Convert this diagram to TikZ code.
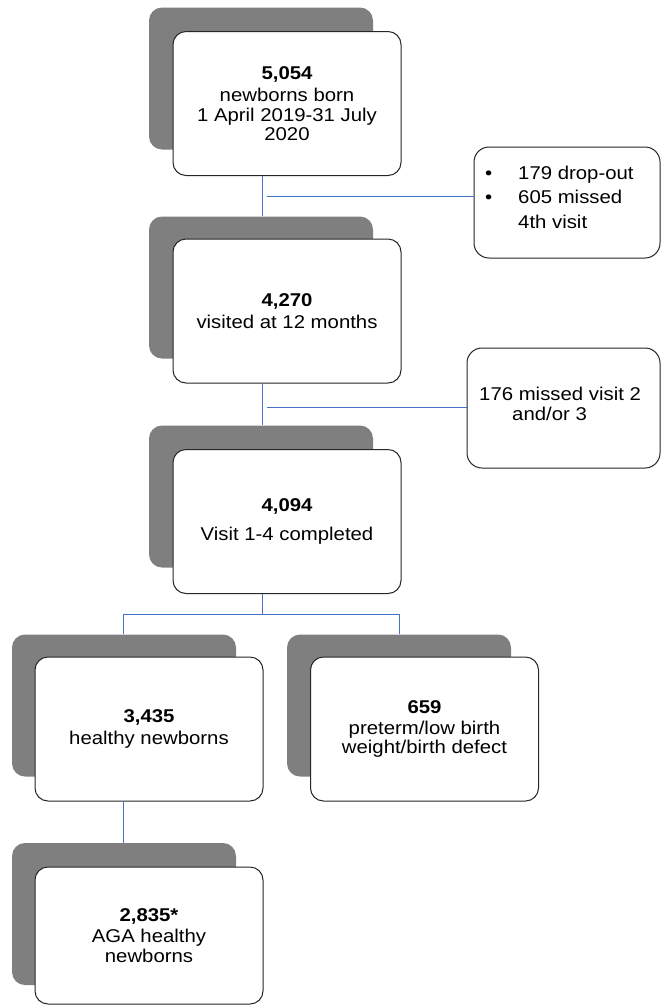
\documentclass[tikz,border=0pt]{standalone}
\usepackage{fontspec}
\setmainfont[FakeStretch=1.1]{Liberation Sans}
\usetikzlibrary{calc}
\definecolor{shade}{HTML}{7F7F7F}
\definecolor{connblue}{HTML}{4472C4}
\begin{document}
\begin{tikzpicture}[x=1pt,y=-1pt,
  shadowbox/.style={fill=shade, draw=none, rounded corners=13pt, minimum width=224pt, minimum height=142pt, inner sep=0pt},
  mainbox/.style={fill=white, draw=black!85, line width=1pt, rounded corners=13pt, minimum width=228pt, minimum height=144pt, align=center, inner sep=0pt, font=\fontsize{18.5}{19.5}\selectfont},
  sidebox/.style={fill=white, draw=black!85, line width=1pt, rounded corners=15pt, inner sep=0pt},
  sidetext/.style={inner sep=0pt, anchor=base west, font=\fontsize{18.5}{19}\selectfont},
  conn/.style={draw=connblue, line width=1pt}
]
\useasboundingbox (0,0) rectangle (661,1005);

% shadows
\node[shadowbox] (s1) at (261,78.5) {};
\node[shadowbox] (s2) at (261,287.5) {};
\node[shadowbox] (s3) at (261,496.5) {};
\node[shadowbox] (s4) at (124,705.5) {};
\node[shadowbox] (s5) at (399,705.5) {};
\node[shadowbox] (s6) at (124,914) {};

% main boxes
\node[mainbox] (b1) at (287,103.5) {\textbf{5,054}\\[3pt]newborns born\\1 April 2019-31 July\\2020};
\node[mainbox] (b2) at (287,311) {\textbf{4,270}\\[3pt]visited at 12 months};
\node[mainbox] (b3) at (287,521.5) {\textbf{4,094}\\[10pt]Visit 1-4 completed};
\node[mainbox] (b4) at (149,729) {\textbf{3,435}\\[3pt]healthy newborns};
\node[mainbox] (b5) at (424.5,729) {\textbf{659}\\[1pt]preterm/low birth\\weight/birth defect};
\node[mainbox, minimum height=137pt] (b6) at (149,935.5) {\textbf{2,835*}\\[2pt]AGA healthy\\newborns};

% side boxes
\node[sidebox, minimum width=186pt, minimum height=111pt] (side1) at (567,202.5) {};
\node[sidebox, minimum width=193pt, minimum height=120pt] (side2) at (563.5,408) {};
\node[sidetext] (st1) at (485,179) {\def\arraystretch{1.29}\begin{tabular}[t]{@{}p{33pt}@{}l@{}}\textbullet & 179 drop-out\\ \textbullet & 605 missed\\ & 4th visit\end{tabular}};
\node[sidetext] (st2) at (479,400) {\fontsize{18.5}{20}\selectfont\begin{tabular}[t]{@{}l@{}}176 missed visit 2\\ \hspace*{33pt}and/or 3\end{tabular}};

% connectors
\coordinate (mx) at (262.5,0);
\draw[conn] (mx |- b1.south) -- (mx |- s2.north);
\coordinate (j1) at (267,196.5);
\draw[conn] (j1) -- (j1 -| side1.west);
\draw[conn] (mx |- b2.south) -- (mx |- s3.north);
\coordinate (j2) at (267,407.5);
\draw[conn] (j2) -- (j2 -| side2.west);
\coordinate (br) at (262.5,614.5);
\coordinate (lx) at (123.5,0);
\coordinate (rx) at (399.5,0);
\draw[conn] (mx |- b3.south) -- (br);
\draw[conn] (lx |- s4.north) |- (br);
\draw[conn] (rx |- s5.north) |- (br);
\draw[conn] (lx |- b4.south) -- (lx |- s6.north);
\end{tikzpicture}
\end{document}
